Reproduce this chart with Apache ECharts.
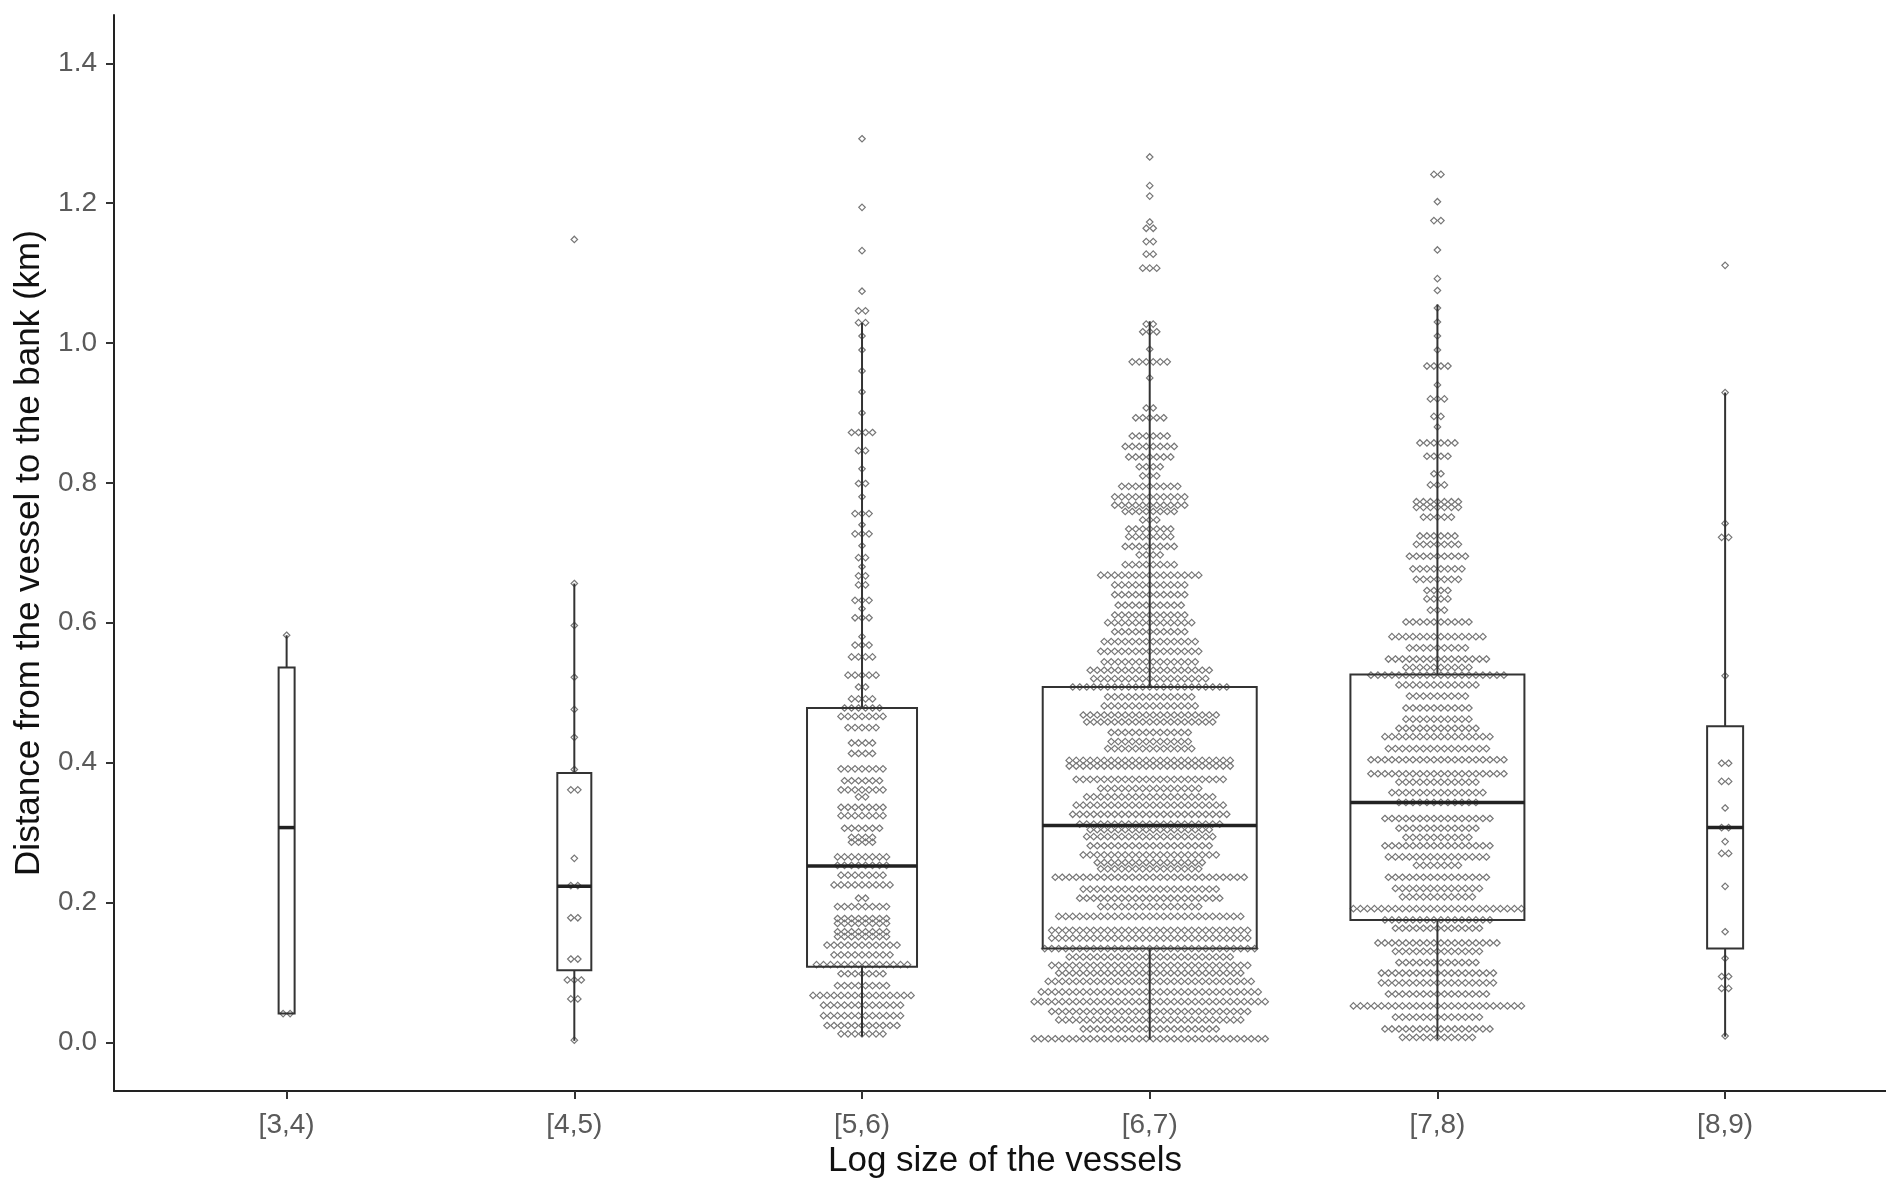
<!DOCTYPE html>
<html>
<head>
<meta charset="utf-8">
<script src="https://cdn.jsdelivr.net/npm/echarts@6/dist/echarts.min.js"></script>
<style>
html,body{margin:0;padding:0;background:#fff;}
#chart{width:1886px;height:1184px;}
</style>
</head>
<body>
<div id="chart"></div>
<script>
// ---------- data ----------
const categories = ['[3,4)', '[4,5)', '[5,6)', '[6,7)', '[7,8)', '[8,9)'];
const yTicks = [0, 0.2, 0.4, 0.6, 0.8, 1.0, 1.2, 1.4];

// boxplot statistics per category
const whiskerLow = [0.041, 0.002, 0.008, 0.004, 0.004, 0.008];
const hingeLow   = [0.041, 0.103, 0.108, 0.134, 0.175, 0.134];
const medians    = [0.307, 0.223, 0.252, 0.310, 0.343, 0.307];
const hingeHigh  = [0.536, 0.385, 0.478, 0.508, 0.526, 0.452];
const whiskerHigh= [0.582, 0.656, 1.029, 1.031, 1.055, 0.929];

// dot rows: distance level (km) and number of dots in that row
const dots34Y = [0.041, 0.582];
const dots34N = [2, 1];

const dots45Y = [0.003, 0.062, 0.089, 0.119, 0.178, 0.224, 0.263, 0.361, 0.39, 0.436, 0.476, 0.522, 0.596, 0.656, 1.148];
const dots45N = [1, 2, 3, 2, 2, 2, 1, 2, 1, 1, 1, 1, 1, 1, 1];

const dots56Y = [0.012,0.024,0.038,0.053,0.067,0.081,0.098,0.111,0.125,0.139,
  0.151,0.158,0.17,0.177,0.194,0.206,0.225,0.239,0.253,0.265,
  0.286,0.293,0.306,0.324,0.336,0.351,0.361,0.374,0.391,0.413,
  0.428,0.45,0.466,0.478,0.491,0.508,0.525,0.551,0.568,0.58,
  0.607,0.62,0.632,0.654,0.667,0.68,0.693,0.71,0.727,0.74,
  0.756,0.78,0.799,0.82,0.846,0.872,0.9,0.93,0.96,0.99,
  1.01,1.029,1.046,1.074,1.132,1.194,1.292];
const dots56N = [7,11,12,12,15,8,7,14,9,11,
  8,8,8,8,8,2,9,7,8,8,
  4,4,6,7,7,2,7,6,7,4,
  4,5,7,6,4,2,5,4,3,1,
  3,1,3,2,2,1,2,1,3,1,
  3,1,2,1,2,4,1,1,1,1,
  1,2,2,1,1,1,1];

const dots67Y = [0.005,0.019,0.032,0.044,0.058,0.072,0.087,0.099,0.11,0.122,
  0.134,0.149,0.16,0.18,0.194,0.206,0.219,0.236,0.248,0.257,
  0.268,0.281,0.294,0.304,0.312,0.326,0.339,0.351,0.363,0.376,
  0.395,0.403,0.42,0.43,0.443,0.458,0.468,0.481,0.494,0.508,
  0.52,0.532,0.544,0.559,0.573,0.587,0.6,0.611,0.625,0.64,
  0.654,0.668,0.683,0.697,0.709,0.723,0.734,0.747,0.759,0.768,
  0.78,0.795,0.81,0.823,0.837,0.852,0.867,0.893,0.907,0.95,
  0.973,0.991,1.016,1.027,1.107,1.127,1.145,1.164,1.173,1.21,
  1.225,1.266];
const dots67N = [34,20,27,29,34,32,30,27,29,24,
  31,29,29,27,15,21,20,28,15,16,
  20,18,19,18,21,23,22,19,15,22,
  24,24,13,12,12,19,20,14,13,23,
  17,18,14,15,14,11,13,11,10,11,
  11,15,8,4,8,7,7,3,8,11,
  11,9,3,4,7,8,6,5,2,1,
  6,1,3,2,3,2,2,2,1,1,
  1,1];

const dots78Y = [0.007,0.019,0.036,0.052,0.069,0.085,0.099,0.114,0.13,0.142,
  0.163,0.175,0.191,0.208,0.22,0.236,0.253,0.265,0.281,0.293,
  0.306,0.32,0.343,0.357,0.372,0.384,0.404,0.42,0.437,0.449,
  0.462,0.478,0.495,0.511,0.525,0.536,0.548,0.564,0.58,0.601,
  0.618,0.634,0.646,0.662,0.677,0.695,0.712,0.724,0.751,0.765,
  0.773,0.797,0.813,0.838,0.857,0.88,0.895,0.92,0.94,0.967,
  0.99,1.01,1.03,1.05,1.075,1.092,1.133,1.175,1.202,1.241];
const dots78N = [11,16,13,25,15,17,17,12,13,18,
  13,16,25,11,13,15,7,15,16,10,
  12,16,12,14,12,20,20,15,16,12,
  10,10,9,12,20,10,15,9,14,10,
  3,4,4,7,8,9,7,6,5,7,
  7,3,2,4,6,1,2,3,1,4,
  1,1,1,1,1,1,1,2,1,2];

const dots89Y = [0.009,0.077,0.094,0.12,0.158,0.223,0.27,0.287,0.307,0.335,0.373,0.399,0.524,0.722,0.742,0.929,1.111];
const dots89N = [1,2,2,1,1,1,2,1,2,1,2,2,1,2,1,1,1];

// ---------- layout / style constants ----------
const PX_PER_CAT = 287.7;           // pixel width of one category unit
const DOT_STEP_PX = 7;              // horizontal spacing between dots in a row
const BOX_PX = [16, 34, 110, 214, 174, 36]; // box widths (varwidth look)
const GRID_LEFT = 114, GRID_TOP = 15, GRID_BOTTOM = 93;
const X_MIN = 0.4;
const X_MAX = X_MIN + (1886 - GRID_LEFT) / PX_PER_CAT;

const dotRows = [[dots34Y, dots34N], [dots45Y, dots45N], [dots56Y, dots56N],
                 [dots67Y, dots67N], [dots78Y, dots78N], [dots89Y, dots89N]];

// stack dots of each row centred on the category position (dotplot layout)
const dotData = [];
const step = DOT_STEP_PX / PX_PER_CAT;
dotRows.forEach(function (pair, ci) {
  const ys = pair[0], ns = pair[1];
  const L = Math.min(ys.length, ns.length);
  for (let r = 0; r < L; r++) {
    const n = ns[r];
    for (let j = 0; j < n; j++) {
      dotData.push([ci + 1 + (j - (n - 1) / 2) * step, ys[r]]);
    }
  }
});

const boxData = categories.map(function (c, i) {
  return [i + 1, whiskerLow[i], hingeLow[i], medians[i], hingeHigh[i], whiskerHigh[i]];
});

const FONT = 'Liberation Sans, Arial, sans-serif';
const chart = echarts.init(document.getElementById('chart'), null, {renderer: 'canvas'});

chart.setOption({
  animation: false,
  backgroundColor: '#ffffff',
  grid: {left: GRID_LEFT, right: 0, top: GRID_TOP, bottom: GRID_BOTTOM, containLabel: false},
  xAxis: {
    type: 'value',
    min: X_MIN,
    max: X_MAX,
    name: 'Log size of the vessels',
    nameLocation: 'middle',
    nameGap: 49,
    nameTextStyle: {fontFamily: FONT, fontSize: 35, color: '#111', padding: [0, 0, 0, 10]},
    axisLine: {onZero: false, lineStyle: {color: '#222', width: 2}},
    axisTick: {show: true, length: 8, lineStyle: {color: '#333', width: 2},
               customValues: [1, 2, 3, 4, 5, 6]},
    axisLabel: {
      customValues: [1, 2, 3, 4, 5, 6],
      formatter: function (v) { return categories[Math.round(v) - 1] || ''; },
      fontFamily: FONT, fontSize: 28, color: '#5a5a5a', margin: 20
    },
    splitLine: {show: false}
  },
  yAxis: {
    type: 'value',
    min: -0.0697,
    max: 1.469,
    name: 'Distance from the vessel to the bank (km)',
    nameLocation: 'middle',
    nameGap: 64,
    nameTextStyle: {fontFamily: FONT, fontSize: 35, color: '#111'},
    axisLine: {onZero: false, lineStyle: {color: '#222', width: 2}},
    axisTick: {show: true, length: 8, lineStyle: {color: '#333', width: 2},
               customValues: yTicks},
    axisLabel: {
      customValues: yTicks,
      formatter: function (v) { return Number(v).toFixed(1); },
      fontFamily: FONT, fontSize: 28, color: '#5a5a5a', margin: 17
    },
    splitLine: {show: false}
  },
  series: [
    {
      type: 'scatter',
      data: dotData,
      symbol: 'diamond',
      symbolSize: 6.5,
      silent: true,
      z: 2,
      itemStyle: {color: 'rgba(0,0,0,0)', borderColor: '#777777', borderWidth: 1.2, opacity: 1}
    },
    {
      type: 'custom',
      data: boxData,
      silent: true,
      z: 5,
      renderItem: function (params, api) {
        const x = api.value(0);
        const c = api.coord([x, api.value(3)]);
        const yLo = api.coord([x, api.value(1)])[1];
        const yQ1 = api.coord([x, api.value(2)])[1];
        const yMd = c[1];
        const yQ3 = api.coord([x, api.value(4)])[1];
        const yHi = api.coord([x, api.value(5)])[1];
        const w = BOX_PX[params.dataIndex];
        const ls = {stroke: '#333', lineWidth: 2, fill: null};
        return {
          type: 'group',
          children: [
            {type: 'line', shape: {x1: c[0], y1: yHi, x2: c[0], y2: yQ3}, style: ls},
            {type: 'line', shape: {x1: c[0], y1: yQ1, x2: c[0], y2: yLo}, style: ls},
            {type: 'rect', shape: {x: c[0] - w / 2, y: yQ3, width: w, height: yQ1 - yQ3},
             style: {stroke: '#333', lineWidth: 2, fill: 'rgba(0,0,0,0)'}},
            {type: 'line', shape: {x1: c[0] - w / 2, y1: yMd, x2: c[0] + w / 2, y2: yMd},
             style: {stroke: '#222', lineWidth: 3.5}}
          ]
        };
      }
    }
  ]
});
</script>
</body>
</html>
